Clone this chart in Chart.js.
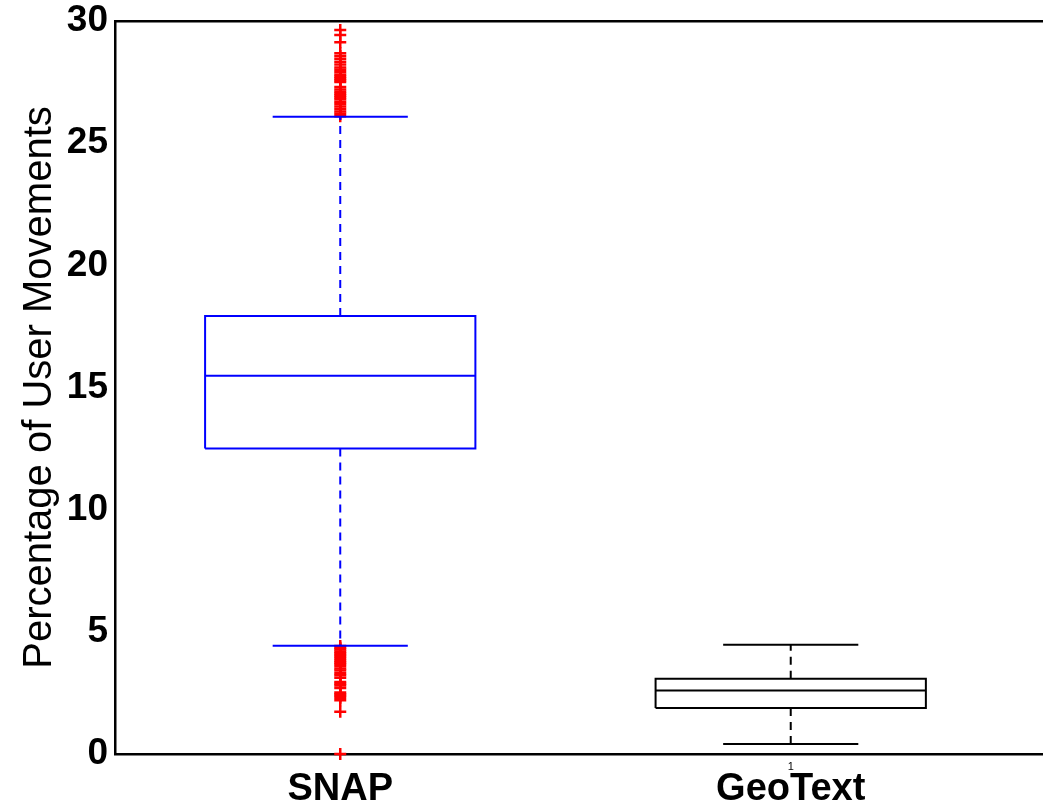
<!DOCTYPE html>
<html>
<head>
<meta charset="utf-8">
<script src="https://cdn.jsdelivr.net/npm/chart.js@4/dist/chart.umd.min.js"></script>
<style>
  html, body { margin: 0; padding: 0; background: #fff; overflow: hidden; }
  canvas { display: block; }
</style>
</head>
<body>
<canvas id="grafico_movimentos" width="1043" height="809"></canvas>
<script>
// box statistics per category
var categorias = ['SNAP', 'GeoText'];
var q1 = [12.5, 1.88];
var mediana = [15.48, 2.6];
var q3 = [17.93, 3.08];
var bigodeMin = [4.43, 0.41];
var bigodeMax = [26.08, 4.47];
var cores = ['#0000ff', '#000000'];
var yTicks = [0, 5, 10, 15, 20, 25, 30];

// SNAP outliers (GeoText has none)
var outliersSnap = [
    29.63, 29.43, 29.13,
    28.68, 28.57, 28.45, 28.33, 28.22, 28.1, 28.0, 27.9,
    27.8, 27.72, 27.65, 27.58, 27.5,
    27.3, 27.2, 27.1, 27.02, 26.95, 26.88, 26.8, 26.7, 26.6, 26.5,
    26.4, 26.3, 26.2, 26.1,
    4.42, 4.35, 4.28, 4.2, 4.12, 4.05, 3.98, 3.9, 3.82, 3.75, 3.68, 3.6,
    3.5, 3.42, 3.3, 3.22, 3.12, 2.95, 2.88, 2.8, 2.7, 2.52, 2.45, 2.38,
    2.3, 2.2, 1.73, 0
];

var meiaCaixa = 0.3;
var meiaHaste = 0.15;

function linha(pontos, cor, tracejado) {
    return {
        type: 'scatter',
        data: pontos,
        showLine: true,
        borderColor: cor,
        borderWidth: 2,
        borderDash: tracejado ? [8, 6] : [],
        pointRadius: 0,
        fill: false,
        tension: 0
    };
}

var datasets = [];
for (var i = 0; i < categorias.length; i++) {
    var x = i + 1;
    var c = cores[i];
    // whiskers
    datasets.push(linha([{x: x, y: q3[i]}, {x: x, y: bigodeMax[i]}], c, true));
    datasets.push(linha([{x: x, y: q1[i]}, {x: x, y: bigodeMin[i]}], c, true));
    // caps
    datasets.push(linha([{x: x - meiaHaste, y: bigodeMax[i]}, {x: x + meiaHaste, y: bigodeMax[i]}], c, false));
    datasets.push(linha([{x: x - meiaHaste, y: bigodeMin[i]}, {x: x + meiaHaste, y: bigodeMin[i]}], c, false));
    // box
    datasets.push(linha([
        {x: x - meiaCaixa, y: q1[i]}, {x: x + meiaCaixa, y: q1[i]},
        {x: x + meiaCaixa, y: q3[i]}, {x: x - meiaCaixa, y: q3[i]},
        {x: x - meiaCaixa, y: q1[i]}
    ], c, false));
    // median
    datasets.push(linha([{x: x - meiaCaixa, y: mediana[i]}, {x: x + meiaCaixa, y: mediana[i]}], c, false));
}

datasets.push({
    type: 'scatter',
    data: outliersSnap.map(function (v) { return {x: 1, y: v}; }),
    pointStyle: 'cross',
    pointRadius: 6,
    borderColor: '#ff0000',
    backgroundColor: '#ff0000',
    borderWidth: 2.5,
    clip: false
});

// little "1" under the second group
var rotuloExtra = {
    id: 'rotuloExtra',
    afterDraw: function (chart) {
        var ctx = chart.ctx;
        var px = chart.scales.x.getPixelForValue(2);
        ctx.save();
        ctx.fillStyle = '#000';
        ctx.font = '11px "Liberation Sans", Arial, sans-serif';
        ctx.textAlign = 'center';
        ctx.textBaseline = 'top';
        ctx.fillText('1', px, chart.chartArea.bottom + 7);
        ctx.restore();
    }
};

// scales keep their own size, no extra label padding around the plot
function semPadding(scale) {
    scale.paddingTop = 0;
    scale.paddingBottom = 0;
    scale.paddingLeft = 0;
    scale.paddingRight = 0;
}

var fonte = '"Liberation Sans", Arial, sans-serif';

new Chart(document.getElementById('grafico_movimentos'), {
    type: 'scatter',
    data: { datasets: datasets },
    plugins: [rotuloExtra],
    options: {
        responsive: false,
        animation: false,
        layout: { padding: 0, autoPadding: false },
        plugins: {
            legend: { display: false },
            tooltip: { enabled: false }
        },
        scales: {
            x: {
                type: 'linear',
                min: 0.5,
                max: 2.56,
                afterBuildTicks: function (scale) {
                    scale.ticks = [{value: 1}, {value: 2}];
                },
                afterFit: function (scale) { scale.height = 55; semPadding(scale); },
                grid: { display: false, drawTicks: false },
                border: { display: true, color: '#000', width: 2.5 },
                ticks: {
                    color: '#000',
                    padding: 17,
                    maxRotation: 0,
                    font: { family: fonte, size: 38, weight: 'bold', lineHeight: 1 },
                    callback: function (v) { return categorias[v - 1]; }
                }
            },
            xTopo: {
                type: 'linear',
                position: 'top',
                min: 0.5,
                max: 2.56,
                afterFit: function (scale) { scale.height = 21; semPadding(scale); },
                grid: { display: false },
                border: { display: true, color: '#000', width: 2.5 },
                ticks: { display: false }
            },
            y: {
                min: 0,
                max: 30,
                afterBuildTicks: function (scale) {
                    scale.ticks = yTicks.map(function (v) { return {value: v}; });
                },
                afterFit: function (scale) { scale.width = 115; semPadding(scale); },
                grid: { display: false, drawTicks: false },
                border: { display: true, color: '#000', width: 2.5 },
                ticks: {
                    color: '#000',
                    padding: 7,
                    font: { family: fonte, size: 37, weight: 'bold', lineHeight: 1 }
                },
                title: {
                    display: true,
                    text: 'Percentage of User Movements',
                    color: '#000',
                    padding: { top: 16, bottom: 0 },
                    font: { family: fonte, size: 40, weight: 'normal' }
                }
            }
        }
    }
});
</script>
</body>
</html>
